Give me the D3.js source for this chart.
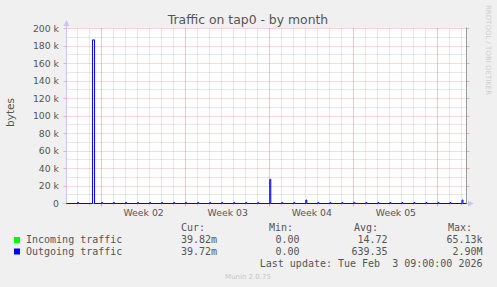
<!DOCTYPE html>
<html>
<head>
<meta charset="utf-8">
<script src="https://cdn.jsdelivr.net/npm/d3@7"></script>
<style>
body { margin: 0; background: #f0f0f0; }
text { font-family: "DejaVu Sans", sans-serif; fill: #555; }
.mono { font-family: "DejaVu Sans Mono", monospace; font-size: 10px; fill: #555; }
</style>
</head>
<body>
<div id="graf"></div>
<script>
// time window of the graph (UTC)
const startTime = "2026-01-01T02:00:00Z"
const endTime = "2026-02-03T09:00:00Z"

const yTicks = [0, 20000, 40000, 60000, 80000, 100000, 120000, 140000, 160000, 180000, 200000]
const yTickLabels = ["0", "20 k", "40 k", "60 k", "80 k", "100 k", "120 k", "140 k", "160 k", "180 k", "200 k"]
const yMinorTicks = [10000, 30000, 50000, 70000, 90000, 110000, 130000, 150000, 170000, 190000]

const weekStarts = ["2026-01-04", "2026-01-11", "2026-01-18", "2026-01-25", "2026-02-01"]
const weekLabels = ["Week 02", "Week 03", "Week 04", "Week 05"]

// outgoing traffic: bursts (start time, bytes, width in 2h steps)
const outgoingTimes = [
  "2026-01-02T00:00Z", "2026-01-03T06:00Z", "2026-01-04T00:00Z", "2026-01-05T00:00Z",
  "2026-01-06T00:00Z", "2026-01-07T00:00Z", "2026-01-08T00:00Z", "2026-01-09T00:00Z",
  "2026-01-10T00:00Z", "2026-01-11T00:00Z", "2026-01-12T00:00Z", "2026-01-13T00:00Z",
  "2026-01-14T00:00Z", "2026-01-15T00:00Z", "2026-01-16T00:00Z", "2026-01-17T00:00Z",
  "2026-01-18T00:00Z", "2026-01-19T00:00Z", "2026-01-20T00:00Z", "2026-01-21T00:00Z",
  "2026-01-22T00:00Z", "2026-01-23T00:00Z", "2026-01-24T00:00Z", "2026-01-25T00:00Z",
  "2026-01-26T00:00Z", "2026-01-27T00:00Z", "2026-01-28T00:00Z", "2026-01-29T00:00Z",
  "2026-01-30T00:00Z", "2026-01-31T00:00Z", "2026-02-01T00:00Z", "2026-02-02T00:00Z",
  "2026-02-03T00:00Z"
]
const outgoingValues = [
  1200, 187000, 1200, 1200,
  1200, 1200, 1200, 1200,
  1200, 1200, 1200, 1200,
  1200, 1200, 1200, 1200,
  27600, 1200, 1200, 4000,
  1200, 1200, 1200, 1200,
  1200, 1200, 1200, 1200,
  1200, 1200, 1200, 1200,
  4000
]
const outgoingSteps = [
  1, 2, 1, 1, 1, 1, 1, 1, 1, 1, 1, 1, 1, 1, 1, 1,
  1, 1, 1, 1, 1, 1, 1, 1, 1, 1, 1, 1, 1, 1, 1, 1, 1
]
const incomingTimes = [startTime, endTime]
const incomingValues = [0, 0]

const seriesNames = ["Incoming traffic", "Outgoing traffic"]
const seriesColors = ["#00ff00", "#0000ff"]
const legendCur = ["39.82m", "39.72m"]
const legendMin = ["0.00", "0.00"]
const legendAvg = ["14.72", "639.35"]
const legendMax = ["65.13k", "2.90M"]

const anchoTotal = 497
const altoTotal = 287
const pl = 66.5, pr = 466.5, pt = 28.5, pb = 203.5
const minorColor = "rgba(150,150,150,0.45)"
const majorColor = "rgba(220,100,100,0.45)"
const axisColor = "#c8c8ee"

const svg = d3.select("#graf").append("svg")
  .attr("width", anchoTotal).attr("height", altoTotal)

const x = d3.scaleUtc().domain([new Date(startTime), new Date(endTime)]).range([pl, pr])
const y = d3.scaleLinear().domain([0, 200000]).range([pb, pt])
const px = v => Math.round(v - 0.5) + 0.5

// canvas
svg.append("rect").attr("x", pl).attr("y", pt)
  .attr("width", pr - pl).attr("height", pb - pt).attr("fill", "#fff")

// grid
const days = d3.utcDay.range(new Date(startTime), new Date(endTime))
const weeks = weekStarts.map(d => new Date(d + "T00:00:00Z"))
const grid = svg.append("g").attr("stroke-width", 1).attr("stroke-dasharray", "1,1")
grid.selectAll(".vmin").data(days).join("line")
  .attr("x1", d => px(x(d))).attr("x2", d => px(x(d)))
  .attr("y1", pt).attr("y2", pb).attr("stroke", minorColor)
grid.selectAll(".hmin").data(yMinorTicks).join("line")
  .attr("x1", pl).attr("x2", pr).attr("y1", d => px(y(d))).attr("y2", d => px(y(d)))
  .attr("stroke", minorColor)
grid.selectAll(".vmaj").data(weeks).join("line")
  .attr("x1", d => px(x(d))).attr("x2", d => px(x(d)))
  .attr("y1", pt).attr("y2", pb).attr("stroke", majorColor)
grid.selectAll(".hmaj").data(yTicks.slice(1)).join("line")
  .attr("x1", pl).attr("x2", pr).attr("y1", d => px(y(d))).attr("y2", d => px(y(d)))
  .attr("stroke", majorColor)

// tick marks
const ticks = svg.append("g").attr("stroke-width", 1)
ticks.selectAll(".lt").data(yTicks).join("line")
  .attr("x1", pl - 3).attr("x2", pl).attr("y1", d => px(y(d))).attr("y2", d => px(y(d)))
  .attr("stroke", majorColor)
ticks.selectAll(".rt").data(yTicks).join("line")
  .attr("x1", pr).attr("x2", pr + 3).attr("y1", d => px(y(d))).attr("y2", d => px(y(d)))
  .attr("stroke", majorColor)
ticks.selectAll(".bt").data(days).join("line")
  .attr("x1", d => px(x(d))).attr("x2", d => px(x(d)))
  .attr("y1", pb).attr("y2", pb + 2).attr("stroke", minorColor)
ticks.selectAll(".bmt").data(weeks).join("line")
  .attr("x1", d => px(x(d))).attr("x2", d => px(x(d)))
  .attr("y1", pb).attr("y2", pb + 3).attr("stroke", majorColor)

// y labels
const yAxis = svg.append("g").attr("transform", `translate(${pl},0)`)
  .call(d3.axisLeft(y).tickValues(yTicks).tickFormat((d, i) => yTickLabels[i]).tickSize(0).tickPadding(7.5))
yAxis.select(".domain").remove()
yAxis.selectAll("text").style("font-family", "DejaVu Sans").style("font-size", "9.3px").style("fill", "#555")

// x labels
svg.append("g").selectAll("text").data(weekLabels).join("text")
  .attr("x", (d, i) => (x(weeks[i]) + x(weeks[i + 1])) / 2)
  .attr("y", 216).attr("text-anchor", "middle").style("font-size", "9.3px").text(d => d)

// right frame line
svg.append("line").attr("x1", pr).attr("x2", pr).attr("y1", pt - 1).attr("y2", pb)
  .attr("stroke", "#999")

// axes with arrows
svg.append("line").attr("x1", pl).attr("x2", pl).attr("y1", pb + 1).attr("y2", 22)
  .attr("stroke", axisColor)
svg.append("path").attr("d", `M${pl - 3},26L${pl},20L${pl + 3},26Z`).attr("fill", axisColor)
svg.append("line").attr("x1", pl - 4).attr("x2", 471).attr("y1", pb).attr("y2", pb)
  .attr("stroke", axisColor)
svg.append("path").attr("d", `M468,${pb - 3}L474,${pb}L468,${pb + 3}Z`).attr("fill", axisColor)

// series
const STEP = 2 * 3600 * 1000
const outPoints = [[new Date(startTime), 0]]
outgoingTimes.forEach((t, i) => {
  const d = new Date(t)
  outPoints.push([d, outgoingValues[i]])
  outPoints.push([new Date(+d + outgoingSteps[i] * STEP), 0])
})
outPoints.push([new Date(endTime), 0])
const inPoints = incomingTimes.map((t, i) => [new Date(t), incomingValues[i]])

const line = d3.line().x(d => x(d[0])).y(d => y(d[1])).curve(d3.curveStepAfter)
svg.append("path").datum(inPoints).attr("d", line).attr("fill", "none")
  .attr("stroke", seriesColors[0]).attr("stroke-width", 1)
svg.append("path").datum(outPoints).attr("d", line).attr("fill", "none")
  .attr("stroke", seriesColors[1]).attr("stroke-width", 1)

// title and side texts
svg.append("text").attr("x", 248).attr("y", 23.5).attr("text-anchor", "middle")
  .style("font-size", "12.4px").text("Traffic on tap0 - by month")
svg.append("text").attr("transform", "translate(13.5,112.5) rotate(-90)").attr("text-anchor", "middle")
  .style("font-size", "10.5px").text("bytes")
svg.append("text").attr("transform", "translate(486,5) rotate(90)").attr("text-anchor", "start")
  .style("font-size", "7px").style("fill", "#cfcfcf").text("RRDTOOL / TOBI OETIKER")

// legend
const lg = svg.append("g")
lg.append("text").attr("class", "mono").attr("x", 181).attr("y", 231).text("Cur:")
lg.append("text").attr("class", "mono").attr("x", 269).attr("y", 231).text("Min:")
lg.append("text").attr("class", "mono").attr("x", 354).attr("y", 231).text("Avg:")
lg.append("text").attr("class", "mono").attr("x", 448).attr("y", 231).text("Max:")
seriesNames.forEach((name, i) => {
  const yy = 243 + i * 11.5
  lg.append("rect").attr("x", 14).attr("y", yy - 6).attr("width", 6).attr("height", 6)
    .attr("fill", seriesColors[i])
  lg.append("text").attr("class", "mono").attr("x", 26).attr("y", yy).text(name)
  lg.append("text").attr("class", "mono").attr("x", 217).attr("y", yy).attr("text-anchor", "end").text(legendCur[i])
  lg.append("text").attr("class", "mono").attr("x", 299.5).attr("y", yy).attr("text-anchor", "end").text(legendMin[i])
  lg.append("text").attr("class", "mono").attr("x", 387.5).attr("y", yy).attr("text-anchor", "end").text(legendAvg[i])
  lg.append("text").attr("class", "mono").attr("x", 482.5).attr("y", yy).attr("text-anchor", "end").text(legendMax[i])
})
lg.append("text").attr("class", "mono").attr("x", 482.5).attr("y", 266.5).attr("text-anchor", "end")
  .style("white-space", "pre").text("Last update: Tue Feb  3 09:00:00 2026")
svg.append("text").attr("x", 248).attr("y", 279).attr("text-anchor", "middle")
  .style("font-size", "7px").style("fill", "#c4c4c4").text("Munin 2.0.75")
</script>
</body>
</html>
